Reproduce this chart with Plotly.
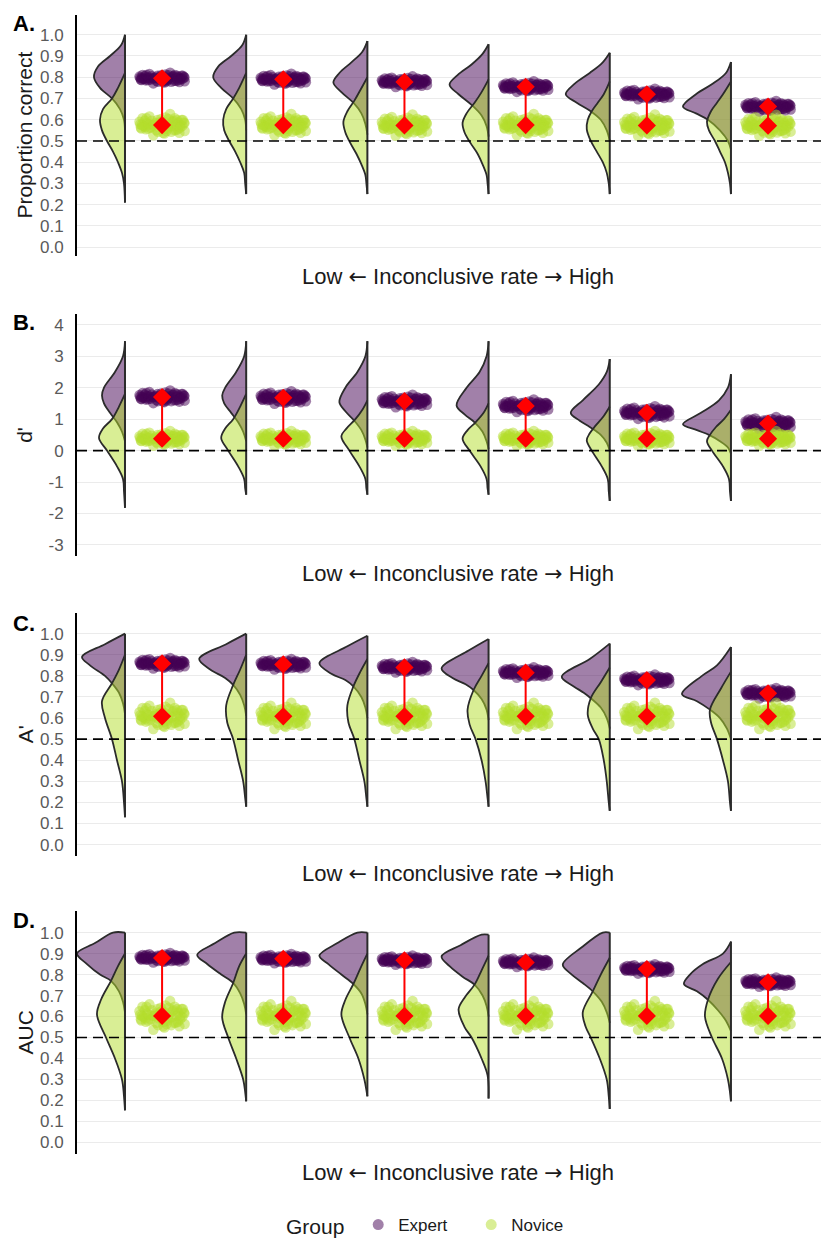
import plotly.graph_objects as go

# ---------------- data ----------------
CATEGORIES = [1, 2, 3, 4, 5, 6]
PANEL_LABELS = ["A.", "B.", "C.", "D."]
Y_TITLES = ["Proportion correct", "d'", "A'", "AUC"]
X_TITLE = ("Low <span style='font-family:DejaVu Sans'>\u2190</span> Inconclusive rate "
           "<span style='font-family:DejaVu Sans'>\u2192</span> High")
CHANCE_LEVELS = [0.5, 0.0, 0.5, 0.5]

PROP_TICKS = [0.0, 0.1, 0.2, 0.3, 0.4, 0.5, 0.6, 0.7, 0.8, 0.9, 1.0]
PROP_TICK_TEXT = ["0.0", "0.1", "0.2", "0.3", "0.4", "0.5", "0.6", "0.7", "0.8", "0.9", "1.0"]
DPRIME_TICKS = [-3, -2, -1, 0, 1, 2, 3, 4]
DPRIME_TICK_TEXT = ["-3", "-2", "-1", "0", "1", "2", "3", "4"]

# group means (red diamonds)
A_EXPERT_MEANS = [0.795, 0.790, 0.778, 0.755, 0.720, 0.662]
A_NOVICE_MEANS = [0.575, 0.575, 0.573, 0.575, 0.573, 0.572]
B_EXPERT_MEANS = [1.70, 1.68, 1.57, 1.42, 1.20, 0.86]
B_NOVICE_MEANS = [0.38, 0.38, 0.38, 0.38, 0.38, 0.38]
C_EXPERT_MEANS = [0.859, 0.854, 0.840, 0.815, 0.780, 0.717]
C_NOVICE_MEANS = [0.608, 0.608, 0.608, 0.608, 0.608, 0.608]
D_EXPERT_MEANS = [0.879, 0.875, 0.868, 0.858, 0.826, 0.763]
D_NOVICE_MEANS = [0.603, 0.603, 0.603, 0.603, 0.603, 0.603]

# spread of the jittered point clouds (data units)
EXPERT_SPREAD = [0.020, 0.16, 0.020, 0.018]
NOVICE_SPREAD = [0.040, 0.19, 0.050, 0.055]

# fixed jitter pattern (unit offsets)
JITTER_X = [-0.95, -0.6, -0.2, 0.25, 0.7, 0.98, -0.85, -0.4, 0.05, 0.5, 0.88, -0.7, -0.3, 0.15,
            0.6, -0.98, -0.5, -0.05, 0.4, 0.8, -0.75, -0.15, 0.3, 0.95, -0.55, 0.1, 0.65, -0.9,
            -0.25, 0.45, 0.75, -0.65, 0.0, 0.55, -0.35, 0.2, 0.9, -0.8, -0.1, 0.35,
            -0.92, -0.45, 0.08, 0.52, 0.97, -0.72, -0.18, 0.28, 0.68, -0.58, -0.02, 0.42,
            0.85, -0.88, -0.38, 0.12, 0.62, -0.68, 0.22, 0.78]
JITTER_Y = [0.1, -0.4, 0.6, -0.2, 0.3, -0.7, 0.8, 0.0, -0.9, 0.5, -0.1, -0.5, 0.2, 0.9,
            -0.6, 0.4, -0.3, 0.7, -0.8, 0.0, 0.5, -0.2, 0.1, 0.3, 1.0, -1.0, 0.6, -0.4,
            -0.6, 0.4, -0.9, 0.2, -0.3, 0.8, 0.0, -0.7, 0.6, -0.1, 0.3, 1.3,
            -0.3, 0.5, -0.5, -0.6, 0.2, -0.2, -0.8, 0.7, -0.5, 0.1, 0.4, -0.1,
            0.6, 0.0, -1.2, 0.3, 0.0, 0.8, -0.4, -0.3]

# half-violin density profiles: (y knots, density) per category
A_EXPERT_VIOLINS = [
    ([1.00, 0.95, 0.90, 0.85, 0.80, 0.75, 0.70, 0.65, 0.60, 0.55], [0, 4, 15, 27, 31, 25, 13, 5, 1, 0]),
    ([1.00, 0.95, 0.90, 0.85, 0.80, 0.75, 0.70, 0.65, 0.60, 0.55], [0, 4, 15, 28, 33, 25, 13, 5, 1, 0]),
    ([0.97, 0.92, 0.87, 0.82, 0.775, 0.73, 0.68, 0.63, 0.58, 0.53], [0, 5, 16, 28, 34, 26, 14, 6, 2, 0]),
    ([0.955, 0.91, 0.86, 0.81, 0.765, 0.72, 0.67, 0.62, 0.57, 0.52], [0, 6, 17, 31, 39, 30, 17, 7, 2, 0]),
    ([0.915, 0.87, 0.82, 0.77, 0.72, 0.68, 0.64, 0.60, 0.55, 0.50], [0, 7, 20, 35, 44, 33, 19, 9, 3, 0]),
    ([0.872, 0.82, 0.77, 0.72, 0.662, 0.63, 0.60, 0.55, 0.50, 0.46], [0, 5, 18, 35, 48, 35, 23, 11, 3, 0]),
]
A_NOVICE_VIOLINS = [
    ([0.82, 0.75, 0.70, 0.65, 0.60, 0.55, 0.50, 0.45, 0.40, 0.35, 0.30, 0.21], [0, 7, 13, 22, 25, 23, 18, 12, 7, 3, 1, 0]),
    ([0.82, 0.75, 0.70, 0.65, 0.60, 0.55, 0.50, 0.45, 0.40, 0.35, 0.30, 0.25], [0, 7, 13, 20, 23, 22, 17, 11, 6, 2, 1, 0]),
    ([0.80, 0.74, 0.69, 0.64, 0.59, 0.54, 0.49, 0.44, 0.39, 0.34, 0.30, 0.25], [0, 7, 13, 20, 24, 22, 17, 11, 6, 2, 1, 0]),
    ([0.79, 0.73, 0.68, 0.63, 0.585, 0.54, 0.49, 0.44, 0.39, 0.34, 0.30, 0.25], [0, 7, 14, 22, 26, 24, 18, 11, 6, 2, 1, 0]),
    ([0.78, 0.72, 0.68, 0.64, 0.60, 0.556, 0.50, 0.45, 0.40, 0.35, 0.30, 0.25], [0, 6, 12, 18, 22, 23, 19, 13, 7, 3, 1, 0]),
    ([0.78, 0.72, 0.68, 0.64, 0.59, 0.55, 0.50, 0.45, 0.40, 0.35, 0.30, 0.25], [0, 8, 14, 20, 24, 22, 16, 11, 6, 3, 1, 0]),
]
B_EXPERT_VIOLINS = [
    ([3.48, 3.0, 2.5, 2.0, 1.75, 1.5, 1.2, 0.9, 0.6, 0.3], [0, 2, 10, 21, 23, 21, 15, 8, 3, 0]),
    ([3.48, 3.0, 2.5, 2.0, 1.75, 1.5, 1.2, 0.9, 0.6, 0.3], [0, 2, 10, 21, 24, 22, 15, 8, 3, 0]),
    ([3.48, 3.0, 2.5, 2.0, 1.54, 1.25, 0.95, 0.65, 0.35, 0.1], [0, 2, 10, 22, 28, 22, 13, 6, 2, 0]),
    ([3.48, 3.0, 2.5, 2.0, 1.44, 1.15, 0.9, 0.6, 0.3, 0.05], [0, 2, 9, 22, 32, 24, 14, 6, 2, 0]),
    ([2.91, 2.5, 2.1, 1.6, 1.2, 0.95, 0.75, 0.5, 0.25, 0.0], [0, 3, 11, 27, 39, 30, 20, 9, 3, 0]),
    ([2.43, 2.0, 1.6, 1.2, 0.84, 0.65, 0.5, 0.3, 0.1, -0.1], [0, 3, 12, 30, 48, 34, 22, 11, 3, 0]),
]
B_NOVICE_VIOLINS = [
    ([1.8, 1.4, 1.0, 0.7, 0.4, 0.0, -0.5, -0.9, -1.3, -1.82], [0, 6, 13, 22, 26, 18, 8, 2, 1, 0]),
    ([1.8, 1.4, 1.0, 0.7, 0.4, 0.0, -0.5, -0.9, -1.2, -1.4], [0, 6, 13, 21, 25, 18, 8, 2, 1, 0]),
    ([1.6, 1.3, 1.0, 0.7, 0.45, 0.0, -0.5, -0.9, -1.2, -1.4], [0, 5, 12, 21, 26, 18, 8, 2, 1, 0]),
    ([1.5, 1.2, 0.9, 0.65, 0.38, 0.0, -0.5, -0.9, -1.2, -1.4], [0, 5, 13, 21, 26, 19, 8, 2, 1, 0]),
    ([1.4, 1.1, 0.8, 0.55, 0.33, 0.0, -0.5, -0.9, -1.3, -1.6], [0, 6, 14, 20, 23, 18, 8, 2, 1, 0]),
    ([1.3, 1.0, 0.75, 0.5, 0.3, 0.0, -0.5, -0.9, -1.3, -1.6], [0, 7, 15, 21, 24, 19, 8, 2, 1, 0]),
]
C_EXPERT_VIOLINS = [
    ([1.0, 0.95, 0.89, 0.85, 0.80, 0.765, 0.72, 0.67, 0.62], [0, 20, 43, 35, 20, 13, 6, 2, 0]),
    ([1.0, 0.95, 0.88, 0.83, 0.79, 0.757, 0.71, 0.66, 0.61], [0, 20, 47, 36, 21, 13, 6, 2, 0]),
    ([0.99, 0.94, 0.86, 0.81, 0.78, 0.75, 0.70, 0.65, 0.60], [0, 20, 48, 36, 22, 14, 6, 2, 0]),
    ([0.975, 0.92, 0.835, 0.79, 0.76, 0.733, 0.69, 0.64, 0.59], [0, 20, 47, 36, 23, 15, 7, 2, 0]),
    ([0.953, 0.88, 0.796, 0.75, 0.72, 0.694, 0.65, 0.60, 0.55], [0, 20, 48, 36, 26, 19, 9, 3, 0]),
    ([0.937, 0.85, 0.80, 0.713, 0.68, 0.64, 0.60, 0.55, 0.50], [0, 14, 29, 49, 34, 21, 11, 4, 0]),
]
C_NOVICE_VIOLINS = [
    ([0.90, 0.83, 0.765, 0.68, 0.60, 0.50, 0.40, 0.30, 0.20, 0.13], [0, 6, 13, 23, 20, 13, 8, 3, 1, 0]),
    ([0.90, 0.83, 0.757, 0.66, 0.58, 0.50, 0.40, 0.30, 0.22, 0.18], [0, 6, 13, 20, 19, 13, 8, 3, 1, 0]),
    ([0.88, 0.82, 0.75, 0.66, 0.58, 0.50, 0.40, 0.30, 0.22, 0.18], [0, 7, 14, 20, 19, 13, 8, 3, 1, 0]),
    ([0.86, 0.80, 0.733, 0.64, 0.57, 0.50, 0.40, 0.30, 0.22, 0.18], [0, 7, 15, 21, 19, 13, 7, 3, 1, 0]),
    ([0.84, 0.77, 0.694, 0.615, 0.55, 0.50, 0.40, 0.30, 0.20, 0.16], [0, 9, 19, 22, 17, 11, 6, 3, 1, 0]),
    ([0.82, 0.74, 0.64, 0.58, 0.50, 0.40, 0.30, 0.20, 0.16], [0, 10, 21, 20, 14, 8, 3, 1, 0]),
]
D_EXPERT_VIOLINS = [
    ([1.0, 1.0, 0.95, 0.90, 0.85, 0.80, 0.77, 0.72, 0.67, 0.62], [0, 12, 30, 48, 38, 25, 14, 6, 2, 0]),
    ([1.0, 1.0, 0.95, 0.894, 0.85, 0.80, 0.76, 0.71, 0.66, 0.61], [0, 12, 31, 49, 39, 25, 13, 6, 2, 0]),
    ([1.0, 1.0, 0.95, 0.89, 0.85, 0.80, 0.755, 0.71, 0.66, 0.61], [0, 10, 30, 48, 39, 26, 14, 6, 2, 0]),
    ([0.99, 0.99, 0.94, 0.886, 0.84, 0.79, 0.752, 0.70, 0.65, 0.60], [0, 7, 28, 47, 39, 26, 14, 6, 2, 0]),
    ([1.0, 1.0, 0.93, 0.847, 0.80, 0.76, 0.72, 0.67, 0.62, 0.57], [0, 7, 28, 47, 38, 27, 17, 8, 3, 0]),
    ([0.957, 0.90, 0.85, 0.80, 0.755, 0.72, 0.68, 0.63, 0.58, 0.53], [0, 8, 28, 41, 47, 34, 23, 13, 5, 0]),
]
D_NOVICE_VIOLINS = [
    ([0.90, 0.84, 0.77, 0.68, 0.61, 0.50, 0.40, 0.30, 0.22, 0.153], [0, 7, 14, 24, 28, 19, 10, 3, 1, 0]),
    ([0.90, 0.84, 0.76, 0.67, 0.595, 0.50, 0.40, 0.30, 0.24, 0.196], [0, 7, 13, 21, 24, 18, 10, 3, 1, 0]),
    ([0.90, 0.83, 0.755, 0.68, 0.61, 0.50, 0.40, 0.30, 0.25, 0.22], [0, 7, 14, 22, 26, 18, 9, 3, 1, 0]),
    ([0.89, 0.82, 0.752, 0.69, 0.634, 0.55, 0.50, 0.40, 0.32, 0.21], [0, 7, 14, 24, 30, 24, 17, 7, 1, 0]),
    ([0.88, 0.80, 0.72, 0.62, 0.55, 0.50, 0.40, 0.30, 0.22, 0.16], [0, 9, 17, 27, 24, 19, 10, 3, 1, 0]),
    ([0.86, 0.78, 0.68, 0.60, 0.50, 0.40, 0.30, 0.24, 0.196], [0, 13, 23, 26, 19, 9, 3, 1, 0]),
]

# ---------------- styling ----------------
PAGE_OFFSET = 8                     # default body margin of the html page
W, H = 829 - PAGE_OFFSET, 1245 - PAGE_OFFSET
FONT = "Liberation Sans, Arial, sans-serif"
EXPERT_COLOR = "#440154"
NOVICE_COLOR = "#B4DE2C"
EXPERT_FILL = "rgba(68,1,84,0.5)"
NOVICE_FILL = "rgba(180,222,44,0.5)"
OUTLINE = "#2B2B2B"
DENSITY_SCALE = 1 / 121.2      # density units -> x-axis width
VIOLIN_NUDGE = -0.153
POINT_NUDGE = 0.153
JITTER_WIDTH = 0.19

PANEL_TOP_PX = [15, 316, 617, 918]
PANEL_BOTTOM_PX = [258, 560, 862, 1162]
Y_RANGES = [[-0.042, 1.093], [-3.35, 4.35], [-0.053, 1.10], [-0.053, 1.101]]
X_RANGE = [0.451, 6.656]
AXIS_LEFT_PX = 77
XTITLE_PX = [278, 578, 880, 1181]
XTITLE_CENTER_PX = 458
LABEL_PX = [24, 325, 628, 927]
LEGEND_PX = (284, 1235)


def fx(px):
    return (px - PAGE_OFFSET) / W


def fy(px):
    return 1 - (px - PAGE_OFFSET) / H


panels = [
    (A_EXPERT_VIOLINS, A_NOVICE_VIOLINS, A_EXPERT_MEANS, A_NOVICE_MEANS, PROP_TICKS, PROP_TICK_TEXT),
    (B_EXPERT_VIOLINS, B_NOVICE_VIOLINS, B_EXPERT_MEANS, B_NOVICE_MEANS, DPRIME_TICKS, DPRIME_TICK_TEXT),
    (C_EXPERT_VIOLINS, C_NOVICE_VIOLINS, C_EXPERT_MEANS, C_NOVICE_MEANS, PROP_TICKS, PROP_TICK_TEXT),
    (D_EXPERT_VIOLINS, D_NOVICE_VIOLINS, D_EXPERT_MEANS, D_NOVICE_MEANS, PROP_TICKS, PROP_TICK_TEXT),
]

fig = go.Figure()
annotations = []
shapes = []

for i, (exp_v, nov_v, exp_m, nov_m, ticks, ticktext) in enumerate(panels):
    sfx = "" if i == 0 else str(i + 1)
    xa, ya = "x" + sfx, "y" + sfx

    # half violins (expert first, novice on top)
    for violins, fill in ((exp_v, EXPERT_FILL), (nov_v, NOVICE_FILL)):
        for k, (ys, ds) in zip(CATEGORIES, violins):
            edge = k + VIOLIN_NUDGE
            xs = [edge - d * DENSITY_SCALE for d in ds]
            fig.add_trace(go.Scatter(
                x=xs, y=ys, xaxis=xa, yaxis=ya, mode="lines",
                line=dict(color=OUTLINE, width=1.8, shape="spline", smoothing=1.0),
                fill="toself", fillcolor=fill, showlegend=False, hoverinfo="skip"))
    # flat edge of violins
    ex, ey = [], []
    for k, (eys, _), (nys, _) in zip(CATEGORIES, exp_v, nov_v):
        edge = k + VIOLIN_NUDGE
        ex += [edge, edge, None]
        ey += [max(eys + nys), min(eys + nys), None]
    fig.add_trace(go.Scatter(x=ex, y=ey, xaxis=xa, yaxis=ya, mode="lines",
                             line=dict(color=OUTLINE, width=2), showlegend=False, hoverinfo="skip"))

    # jittered points
    for means, spread, color in ((exp_m, EXPERT_SPREAD[i], EXPERT_COLOR),
                                 (nov_m, NOVICE_SPREAD[i], NOVICE_COLOR)):
        px, py = [], []
        for k, m in zip(CATEGORIES, means):
            for jx, jy in zip(JITTER_X, JITTER_Y):
                px.append(k + POINT_NUDGE + jx * JITTER_WIDTH)
                py.append(m + jy * spread)
        fig.add_trace(go.Scatter(x=px, y=py, xaxis=xa, yaxis=ya, mode="markers",
                                 marker=dict(color=color, size=10.5, opacity=0.5, line=dict(width=0)),
                                 showlegend=False, hoverinfo="skip"))

    # red mean connectors and diamonds
    lx, ly, dx, dy = [], [], [], []
    for k, em, nm in zip(CATEGORIES, exp_m, nov_m):
        lx += [k + POINT_NUDGE, k + POINT_NUDGE, None]
        ly += [nm, em, None]
        dx += [k + POINT_NUDGE, k + POINT_NUDGE]
        dy += [em, nm]
    fig.add_trace(go.Scatter(x=lx, y=ly, xaxis=xa, yaxis=ya, mode="lines",
                             line=dict(color="#FF0000", width=2), showlegend=False, hoverinfo="skip"))
    fig.add_trace(go.Scatter(x=dx, y=dy, xaxis=xa, yaxis=ya, mode="markers",
                             marker=dict(symbol="diamond", color="#FF0000", size=14, line=dict(width=0)),
                             showlegend=False, hoverinfo="skip"))

    # chance line
    shapes.append(dict(type="line", xref=xa + " domain", yref=ya, x0=0, x1=1,
                       y0=CHANCE_LEVELS[i], y1=CHANCE_LEVELS[i],
                       line=dict(color="black", width=1.6, dash="10px,6px")))

    top = fy(PANEL_TOP_PX[i])
    bot = fy(PANEL_BOTTOM_PX[i])
    fig.layout["xaxis" + sfx] = dict(domain=[fx(AXIS_LEFT_PX), 1], range=X_RANGE, showticklabels=False,
                                    showgrid=False, zeroline=False, showline=False, ticks="",
                                    anchor=ya, fixedrange=True)
    fig.layout["yaxis" + sfx] = dict(domain=[bot, top], range=Y_RANGES[i], tickvals=ticks,
                                    ticktext=ticktext, showline=True, linecolor="black", linewidth=2,
                                    showgrid=True, gridcolor="#EBEBEB", gridwidth=1.2, zeroline=False,
                                    ticks="", ticklabelstandoff=8, anchor=xa,
                                    tickfont=dict(family=FONT, size=17, color="#5A5A5A"))

    annotations.append(dict(text=Y_TITLES[i], xref="paper", yref="paper", x=fx(25),
                            y=(top + bot) / 2, textangle=-90, showarrow=False,
                            xanchor="center", yanchor="middle",
                            font=dict(family=FONT, size=21, color="#1A1A1A")))
    annotations.append(dict(text=X_TITLE, xref="paper", yref="paper", x=fx(XTITLE_CENTER_PX),
                            y=fy(XTITLE_PX[i]), showarrow=False,
                            xanchor="center", yanchor="middle",
                            font=dict(family=FONT, size=22, color="#1A1A1A")))
    annotations.append(dict(text="<b>" + PANEL_LABELS[i] + "</b>", xref="paper", yref="paper",
                            x=fx(11), y=fy(LABEL_PX[i]), showarrow=False,
                            xanchor="left", yanchor="middle",
                            font=dict(family=FONT, size=22, color="black")))

# legend entries
fig.add_trace(go.Scatter(x=[None], y=[None], mode="markers", name="Expert",
                         marker=dict(color=EXPERT_FILL, size=11)))
fig.add_trace(go.Scatter(x=[None], y=[None], mode="markers", name="Novice",
                         marker=dict(color=NOVICE_FILL, size=11)))

fig.update_layout(
    width=W, height=H, margin=dict(l=0, r=0, t=0, b=0),
    paper_bgcolor="white", plot_bgcolor="white",
    font=dict(family=FONT),
    shapes=shapes, annotations=annotations,
    showlegend=True,
    legend=dict(orientation="h", x=fx(LEGEND_PX[0]), xanchor="left", y=fy(LEGEND_PX[1]),
                yanchor="middle", entrywidth=68, entrywidthmode="pixels",
                title=dict(text="Group ", font=dict(family=FONT, size=21, color="#1A1A1A"), side="left"),
                font=dict(family=FONT, size=17, color="#1A1A1A"), bgcolor="rgba(0,0,0,0)"),
)

fig.write_html("out.html")
